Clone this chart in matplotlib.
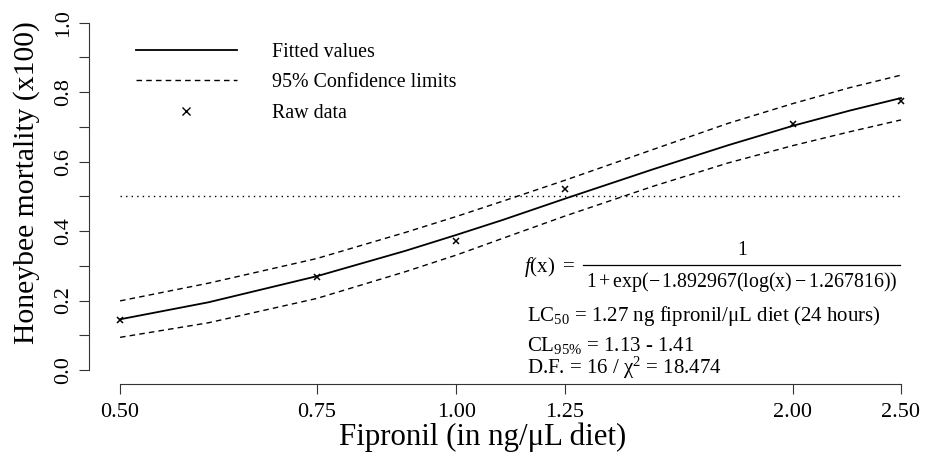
import matplotlib
matplotlib.use('Agg')
import matplotlib.pyplot as plt
from matplotlib.lines import Line2D
from matplotlib.ticker import NullLocator, FixedLocator

plt.rcParams['font.family'] = 'Liberation Serif'
plt.rcParams['mathtext.fontset'] = 'custom'
plt.rcParams['mathtext.rm'] = 'Liberation Serif'
plt.rcParams['mathtext.it'] = 'Liberation Serif:italic'

# curves (dose in ng/uL, mortality x100)
dose = [0.5, 0.6, 0.75, 0.9, 1.0, 1.1, 1.25, 1.5, 1.75, 2.0, 2.25, 2.5]
fitted = [0.146, 0.195, 0.270, 0.343, 0.389, 0.432, 0.493, 0.578, 0.647, 0.703, 0.747, 0.783]
upper = [0.199, 0.250, 0.321, 0.396, 0.442, 0.486, 0.546, 0.635, 0.710, 0.767, 0.813, 0.849]
lower = [0.094, 0.136, 0.206, 0.283, 0.331, 0.379, 0.443, 0.529, 0.596, 0.646, 0.686, 0.720]

raw_dose = [0.5, 0.75, 1.0, 1.25, 2.0, 2.5]
raw_mort = [0.144, 0.269, 0.372, 0.521, 0.708, 0.775]

xticks = [0.5, 0.75, 1.0, 1.25, 2.0, 2.5]
xlabels = ['0.50', '0.75', '1.00', '1.25', '2.00', '2.50']
yticks = [0.0, 0.1, 0.2, 0.3, 0.4, 0.5, 0.6, 0.7, 0.8, 0.9, 1.0]
ylabels = ['0.0', '', '0.2', '', '0.4', '', '0.6', '', '0.8', '', '1.0']

W, H = 933, 458
def px(x, y):
    return x / W, 1 - y / H

fig = plt.figure(figsize=(W / 100, H / 100), dpi=100)
ax = fig.add_axes([89 / W, 1 - 384 / H, (932 - 89) / W, (384 - 8.8) / H])

ax.plot(dose, fitted, color='k', lw=1.3)
ax.plot(dose, upper, color='k', lw=1.0, dashes=(4, 3))
ax.plot(dose, lower, color='k', lw=1.0, dashes=(4, 3))
ax.plot(raw_dose, raw_mort, ls='none', marker='x', ms=4.5, mew=1.1, color='k')
ax.hlines(0.5, xticks[0], xticks[-1], color='k', lw=1.0, linestyles=(0, (1, 3)))

ax.set_xscale('log')
ax.set_xlim(0.469, 2.665)
ax.set_ylim(-0.0403, 1.04)
ax.xaxis.set_minor_locator(NullLocator())
ax.xaxis.set_major_locator(FixedLocator(xticks))
ax.set_xticklabels(xlabels)
ax.set_yticks(yticks)
ax.set_yticklabels(ylabels, rotation=90, va='center')

for s in ['top', 'right']:
    ax.spines[s].set_visible(False)
ax.spines['left'].set_bounds(0, 1)
ax.spines['bottom'].set_bounds(xticks[0], xticks[-1])
for s in ['left', 'bottom']:
    ax.spines[s].set_linewidth(0.8)
    ax.spines[s].set_color('#333333')
ax.tick_params(axis='both', length=7.5, width=0.8, color='#333333', labelsize=16)
ax.tick_params(axis='x', pad=6)
ax.tick_params(axis='y', pad=4)

fig.text(*px(483, 437), 'Fipronil (in ng/μL diet)', fontsize=22.2, ha='center', va='center')
fig.text(*px(27, 183), 'Honeybee mortality (x100)', fontsize=21.3, ha='center', va='center',
         rotation=90)

handles = [Line2D([], [], color='k', lw=1.3),
           Line2D([], [], color='k', lw=1.0, dashes=(4, 3)),
           Line2D([], [], ls='none', marker='x', ms=6, mew=1.0, color='k')]
ax.legend(handles, ['Fitted values', '95% Confidence limits', 'Raw data'],
          loc='upper left', bbox_to_anchor=px(135.7, 43), bbox_transform=fig.transFigure,
          frameon=False, fontsize=14.4, handlelength=5.05, handletextpad=1.75,
          labelspacing=0.57, borderpad=0, borderaxespad=0)

# fitted equation, written as numerator / bar / denominator
fig.text(*px(524, 267), r'$\mathit{f}(\mathrm{x})\ =$', fontsize=15, ha='left', va='center')
fig.text(*px(742, 250), '1', fontsize=14.3, ha='center', va='center')
fig.add_artist(Line2D([583 / W, 900 / W], [1 - 265 / H, 1 - 265 / H], color='k', lw=0.9))
fig.text(*px(742, 282),
         r'$1 + \mathrm{exp}\left(-\,1.892967\left(\mathrm{log}(\mathrm{x}) - 1.267816\right)\right)$',
         fontsize=14.3, ha='center', va='center')

fig.text(*px(527, 316), r'LC$_{50}$ = 1.27 ng fipronil/μL diet (24 hours)', fontsize=15, ha='left', va='center')
fig.text(*px(527, 345), r'CL$_{95\%}$ = 1.13 - 1.41', fontsize=15, ha='left', va='center')
fig.text(*px(527, 368), r'D.F. = 16 / χ$^{2}$ = 18.474', fontsize=15, ha='left', va='center')

fig.savefig('out.png', dpi=100)
